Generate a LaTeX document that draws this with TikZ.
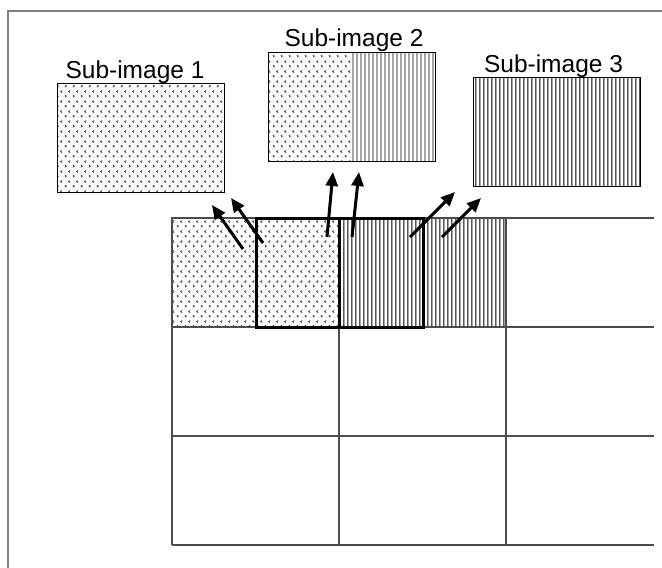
\documentclass[tikz,border=0pt]{standalone}
\usepackage{fontspec}
\setmainfont{Liberation Sans}
\usetikzlibrary{patterns,arrows.meta}

\pgfdeclarepatternformonly{chev}{\pgfqpoint{0pt}{0pt}}{\pgfqpoint{8pt}{10pt}}{\pgfqpoint{8pt}{10pt}}{%
  \pgfsetlinewidth{0.8pt}%
  \pgfpathmoveto{\pgfqpoint{1pt}{0.8pt}}\pgfpathlineto{\pgfqpoint{2.8pt}{2pt}}\pgfpathlineto{\pgfqpoint{1pt}{3.2pt}}%
  \pgfpathmoveto{\pgfqpoint{6.8pt}{5.8pt}}\pgfpathlineto{\pgfqpoint{5pt}{7pt}}\pgfpathlineto{\pgfqpoint{6.8pt}{8.2pt}}%
  \pgfusepath{stroke}}

\pgfdeclarepatternformonly{vl}{\pgfqpoint{0pt}{0pt}}{\pgfqpoint{4.4pt}{1pt}}{\pgfqpoint{4.4pt}{1pt}}{%
  \pgfsetlinewidth{1pt}%
  \pgfpathmoveto{\pgfqpoint{2.2pt}{-0.5pt}}\pgfpathlineto{\pgfqpoint{2.2pt}{1.5pt}}%
  \pgfusepath{stroke}}

\begin{document}
\begin{tikzpicture}[x=1pt,y=-1pt,
  subbox/.style={draw=black, line width=0.9pt, minimum width=167pt, minimum height=109pt,
                 inner sep=0pt, outer sep=0pt, anchor=north west},
  dots/.style={pattern=chev, pattern color=black!75},
  vlines/.style={pattern=vl, pattern color=black},
  gridline/.style={draw=black!70, line width=1.3pt},
  framel/.style={draw=black!50, line width=1.6pt},
  bold/.style={draw=black, line width=3pt},
  arr/.style={draw=black, line width=3pt, -{Triangle[length=14pt,width=12pt]}},
  lbl/.style={anchor=base, inner sep=0pt, font=\fontsize{24.5}{29}\selectfont}]
\useasboundingbox (0,0) rectangle (662,568);

% outer frame (only top and left visible)
\draw[framel] (8,568) -- (8,11) -- (662,11);

% sub-images
\node[subbox] (s1) at (57,83) {};
\fill[dots] (s1.north west) rectangle (s1.south east);
\draw[line width=1pt] (s1.north west) rectangle (s1.south east);

\node[subbox] (s2) at (268,52) {};
\fill[dots] (s2.north west) rectangle (s2.south);
\fill[vlines] (s2.north) rectangle (s2.south east);
\draw[line width=1pt] (s2.north west) rectangle (s2.south east);

\node[subbox] (s3) at (473,77) {};
\fill[vlines] (s3.north west) rectangle (s3.south east);
\draw[line width=1pt] (s3.north west) rectangle (s3.south east);

% labels
\node[lbl] (l1) at (135,78) {Sub-image 1};
\node[lbl] (l2) at (354,46) {Sub-image 2};
\node[lbl] (l3) at (553.5,72) {Sub-image 3};

% grid
\fill[dots] (172,218) rectangle (339,327);
\fill[vlines] (339,218) rectangle (506,327);

\draw[gridline] (172,545) -- (172,218) -- (654,218);
\draw[gridline] (172,327) -- (654,327);
\draw[gridline] (172,436) -- (654,436);
\draw[gridline] (172,545) -- (654,545);
\draw[gridline] (339,218) -- (339,545);
\draw[gridline] (506,218) -- (506,545);

% highlighted window
\draw[bold] (256,218) rectangle (423,327);
\draw[bold] (339,218) -- (339,327);

% arrows
\coordinate (a1s) at (243,249); \coordinate (a1e) at (212,205);
\coordinate (a2s) at (263,243); \coordinate (a2e) at (231,198);
\coordinate (a3s) at (327,237); \coordinate (a3e) at (333,172);
\coordinate (a4s) at (352,237); \coordinate (a4e) at (359,172);
\coordinate (a5s) at (410,237); \coordinate (a5e) at (455,192);
\coordinate (a6s) at (442,237); \coordinate (a6e) at (481,198);
\draw[arr] (a1s) -- (a1e);
\draw[arr] (a2s) -- (a2e);
\draw[arr] (a3s) -- (a3e);
\draw[arr] (a4s) -- (a4e);
\draw[arr] (a5s) -- (a5e);
\draw[arr] (a6s) -- (a6e);
\end{tikzpicture}
\end{document}
